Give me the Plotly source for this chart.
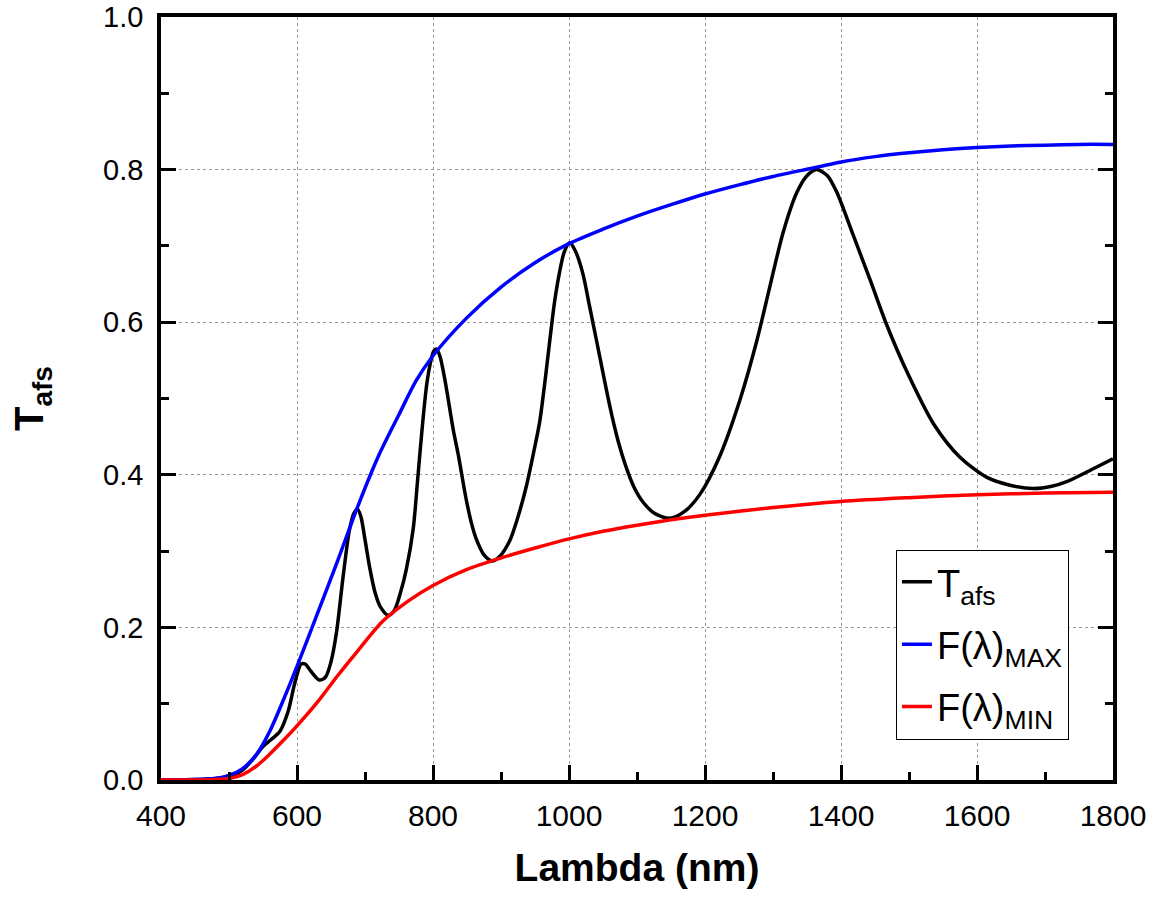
import plotly.graph_objects as go

# ---- data ----
lam_t = [400, 450, 480, 500, 520, 535, 550, 562, 575, 587, 597, 606, 612, 620, 633, 642, 650, 658, 668,
         677, 684, 689, 694, 700, 707, 715, 722, 734, 743, 752, 761, 771, 778, 785, 791, 797, 801, 805,
         810, 817, 824, 830, 837, 849, 857, 864, 875, 887, 898, 913, 925, 937, 947, 957, 965, 972, 979,
         986, 993, 1001, 1009, 1020, 1030, 1040, 1060, 1072, 1084, 1096, 1109, 1125, 1148, 1170, 1193,
         1222, 1251, 1276, 1296, 1315, 1335, 1350, 1364, 1380, 1394, 1418, 1443, 1467, 1497, 1536,
         1575, 1614, 1650, 1683, 1710, 1732, 1771, 1800]
t_afs = [0.0, 0.0005, 0.002, 0.005, 0.013, 0.027, 0.044, 0.053, 0.064, 0.09, 0.128, 0.152, 0.152, 0.143,
         0.131, 0.135, 0.155, 0.193, 0.268, 0.327, 0.350, 0.355, 0.345, 0.315, 0.278, 0.245, 0.228,
         0.216, 0.222, 0.245, 0.277, 0.33, 0.40, 0.47, 0.52, 0.55, 0.562, 0.565, 0.556, 0.527, 0.49,
         0.458, 0.427, 0.367, 0.335, 0.315, 0.295, 0.287, 0.293, 0.314, 0.345, 0.384, 0.425, 0.47,
         0.525, 0.578, 0.628, 0.665, 0.692, 0.704, 0.694, 0.665, 0.622, 0.578, 0.49, 0.445, 0.41,
         0.383, 0.364, 0.350, 0.343, 0.352, 0.375, 0.425, 0.497, 0.575, 0.649, 0.718, 0.77, 0.792,
         0.80, 0.792, 0.77, 0.714, 0.655, 0.597, 0.535, 0.467, 0.423, 0.397, 0.386, 0.382, 0.385,
         0.391, 0.408, 0.421]

lam_max = [400, 450, 480, 500, 520, 540, 560, 580, 600, 630, 660, 690, 720, 750, 775, 800, 850, 900,
           950, 1000, 1050, 1100, 1150, 1200, 1250, 1300, 1364, 1400, 1450, 1500, 1550, 1600, 1650,
           1700, 1750, 1800]
f_max = [0.0, 0.0005, 0.002, 0.006, 0.015, 0.033, 0.064, 0.105, 0.149, 0.218, 0.288, 0.360, 0.425,
         0.479, 0.523, 0.556, 0.606, 0.646, 0.678, 0.703, 0.722, 0.739, 0.754, 0.768, 0.780, 0.791,
         0.803, 0.810, 0.817, 0.822, 0.826, 0.829, 0.831, 0.832, 0.833, 0.833]

lam_min = [400, 460, 480, 500, 520, 540, 560, 580, 600, 630, 660, 690, 726, 766, 800, 850, 900, 950,
           1000, 1050, 1100, 1150, 1200, 1300, 1400, 1500, 1600, 1700, 1800]
f_min = [0.0, 0.0, 0.0005, 0.002, 0.007, 0.018, 0.034, 0.052, 0.071, 0.102, 0.137, 0.170, 0.208, 0.236,
         0.255, 0.276, 0.291, 0.304, 0.316, 0.326, 0.334, 0.341, 0.347, 0.357, 0.365, 0.370, 0.374,
         0.376, 0.377]

x_ticks = [400, 600, 800, 1000, 1200, 1400, 1600, 1800]
y_ticks = [0.0, 0.2, 0.4, 0.6, 0.8, 1.0]

FONT = "Liberation Sans, Arial, sans-serif"
LW = 3.5

fig = go.Figure()
fig.add_trace(go.Scatter(x=lam_t, y=t_afs, mode="lines", name="T<sub>afs</sub>", legendgroup="a",
                         line=dict(color="#000000", width=LW, shape="spline", smoothing=0.8)))
fig.add_trace(go.Scatter(x=lam_max, y=f_max, mode="lines", name="F(λ)<sub>MAX</sub>", legendgroup="b",
                         line=dict(color="#0000FF", width=LW, shape="spline", smoothing=0.8)))
fig.add_trace(go.Scatter(x=lam_min, y=f_min, mode="lines", name="F(λ)<sub>MIN</sub>", legendgroup="c",
                         line=dict(color="#FF0000", width=LW, shape="spline", smoothing=0.8)))

fig.update_layout(
    width=1159, height=899,
    margin=dict(l=161, r=46, t=17, b=119),
    plot_bgcolor="white", paper_bgcolor="white",
    font=dict(family=FONT, color="black", size=29),
    legend=dict(x=0.772, y=0.302, xanchor="left", yanchor="top",
                bgcolor="white", bordercolor="black", borderwidth=1,
                font=dict(size=38, family=FONT), tracegroupgap=10,
                itemwidth=30),
)
fig.update_xaxes(
    range=[400, 1800], tickvals=x_ticks, ticktext=[str(v) for v in x_ticks],
    showline=True, linecolor="black", linewidth=3.5, mirror=True,
    ticks="inside", ticklen=15, tickwidth=3, tickcolor="black",
    minor=dict(ticks="inside", ticklen=8, tickwidth=3, tickcolor="black", dtick=100, showgrid=False),
    showgrid=True, gridcolor="#999999", gridwidth=1, griddash="dot",
    zeroline=False, tickfont=dict(size=30), ticklabelstandoff=6, ticklabeloverflow="allow",
    automargin=False,
    title=dict(text="<b>Lambda (nm)</b>", font=dict(size=39), standoff=24),
)
fig.update_yaxes(
    range=[0, 1.0], tickvals=y_ticks, ticktext=[f"{v:.1f}" for v in y_ticks],
    showline=True, linecolor="black", linewidth=3.5, mirror="ticks",
    ticks="inside", ticklen=15, tickwidth=3, tickcolor="black",
    minor=dict(ticks="inside", ticklen=8, tickwidth=3, tickcolor="black", dtick=0.1, showgrid=False),
    showgrid=True, gridcolor="#999999", gridwidth=1, griddash="dot",
    zeroline=False, tickfont=dict(size=29), ticklabelstandoff=8, ticklabeloverflow="allow",
    automargin=False,
    title=dict(text="<b>T<sub>afs</sub></b>", font=dict(size=40), standoff=48),
)

fig.write_html("out.html")
